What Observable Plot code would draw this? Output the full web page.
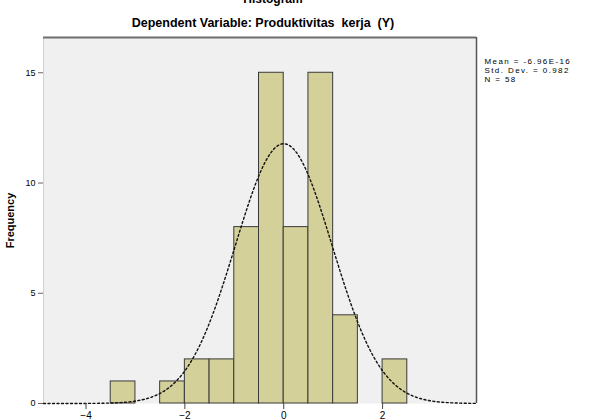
<!DOCTYPE html>
<html>
<head>
<meta charset="utf-8">
<script src="https://cdn.jsdelivr.net/npm/d3@7"></script>
<script src="https://cdn.jsdelivr.net/npm/@observablehq/plot@0.6"></script>
<style>
  html, body { margin: 0; padding: 0; background: #fff; }
  #chart { width: 590px; height: 420px; overflow: hidden; }
</style>
</head>
<body>
<div id="chart"></div>
<script>
// Histogram of regression standardized residuals (bins of width 0.5)
const binStarts = [-3.5, -3.0, -2.5, -2.0, -1.5, -1.0, -0.5, 0.0, 0.5, 1.0, 1.5, 2.0];
const binCounts = [1, 0, 1, 2, 2, 8, 15, 8, 15, 4, 0, 2];
const binWidth = 0.5;
const xTicks = [-4, -2, 0, 2];
const yTicks = [0, 5, 10, 15];
const statMean = -6.96e-16;
const statSd = 0.982;
const statN = 58;
const legendLines = ["Mean = -6.96E-16", "Std. Dev. = 0.982", "N = 58"];
const titleText = "Histogram";
const subtitleText = "Dependent Variable: Produktivitas  kerja  (Y)";
const yLabel = "Frequency";

const xDomain = [-4.86, 3.9];
const yDomain = [0, 16.6];

const bins = binStarts.map((s, i) => ({x1: s, x2: s + binWidth, y: binCounts[i]})).filter(d => d.y > 0);

// Normal curve implied by the reported mean, std. dev. and N
const curve = d3.range(xDomain[0], xDomain[1] + 0.001, 0.02).map(x => ({
  x,
  y: statN * binWidth / (statSd * Math.sqrt(2 * Math.PI)) * Math.exp(-0.5 * ((x - statMean) / statSd) ** 2)
}));

const font = "Arial, 'Liberation Sans', sans-serif";

const chart = Plot.plot({
  width: 590,
  height: 420,
  marginLeft: 43,
  marginRight: 114,
  marginTop: 37,
  marginBottom: 17,
  style: {fontFamily: font, background: "#fff", overflow: "visible"},
  x: {domain: xDomain, ticks: xTicks, tickFormat: d => String(d)},
  y: {domain: yDomain, ticks: yTicks},
  marks: [
    Plot.frame({fill: "#f0f0f0", stroke: "none"}),
    Plot.ruleX([xDomain[0]], {stroke: "#d0d0d0", strokeWidth: 1}),
    Plot.ruleY([yDomain[1]], {stroke: "#6e6e6e", strokeWidth: 2}),
    Plot.ruleX([xDomain[1]], {stroke: "#555", strokeWidth: 1.5}),
    Plot.rectY(bins, {x1: "x1", x2: "x2", y: "y", fill: "#d4d09a", stroke: "#3a3a3a", strokeWidth: 1}),
    Plot.line(curve, {x: "x", y: "y", stroke: "#111", strokeWidth: 1.4, strokeDasharray: "2,2.5"}),
    Plot.axisX({ticks: xTicks, tickSize: 6, tickPadding: 2, fontSize: 10, label: null, stroke: "#444"}),
    Plot.axisY({ticks: yTicks, tickSize: 5, tickPadding: 3, fontSize: 9, label: null, stroke: "#666"}),
    Plot.text([titleText], {frameAnchor: "top", dy: -38, dx: 13, fontSize: 12, fontWeight: "bold", fill: "#000", textAnchor: "middle", lineAnchor: "middle"}),
    Plot.text([subtitleText], {frameAnchor: "top", dy: -15, dx: 3, fontSize: 12.5, fontWeight: "bold", fill: "#000", textAnchor: "middle", lineAnchor: "middle"}),
    Plot.text([yLabel], {frameAnchor: "left", dx: -33, rotate: -90, fontSize: 11, fontWeight: "bold", fill: "#000", textAnchor: "middle"}),
    Plot.text([legendLines.join("\n")], {frameAnchor: "top-right", dx: 8, dy: 20, fontSize: 8, lineHeight: 1.15, fill: "#000", textAnchor: "start", lineAnchor: "top"})
  ]
});
d3.select(chart).selectAll("text").filter(function() { return this.textContent.startsWith("Mean"); })
  .style("letter-spacing", "1.4px");
document.getElementById("chart").appendChild(chart);
</script>
</body>
</html>
